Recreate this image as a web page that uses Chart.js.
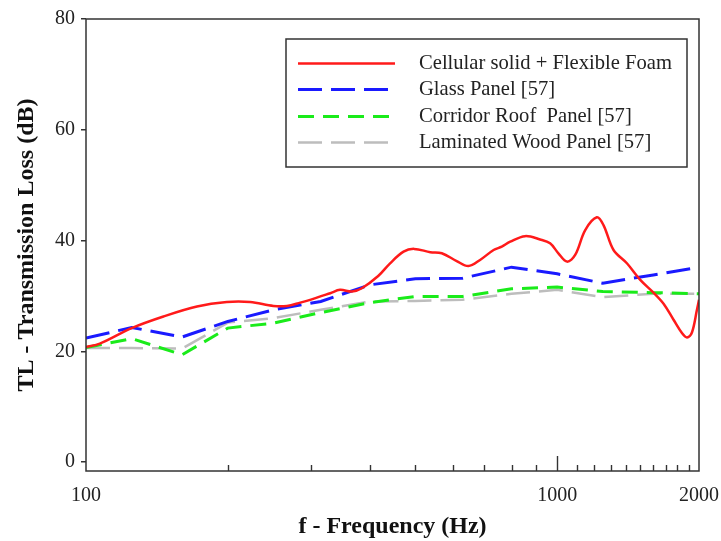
<!DOCTYPE html>
<html>
<head>
<meta charset="utf-8">
<title>Transmission Loss</title>
<script src="https://cdn.jsdelivr.net/npm/chart.js@4.4.0/dist/chart.umd.min.js"></script>
<style>
  html, body { margin: 0; padding: 0; background: #fff; }
  #wrap { width: 721px; height: 541px; }
</style>
</head>
<body>
<div id="wrap"><canvas id="lineChart" width="721" height="541"></canvas></div>
<script>
// red curve (measured, many points)
const freqFoam = [100, 107, 125, 146, 172, 199, 223, 250, 267, 285, 299, 330, 346, 367, 385, 417, 442, 472, 497, 538, 569, 612, 648, 686, 733, 763, 795, 855, 920, 966, 1006, 1049, 1092, 1147, 1214, 1254, 1317, 1406, 1501, 1601, 1682, 1766, 1840, 1886, 1932, 1980, 2000];
const tlFoam = [20.8, 21.4, 24.2, 26.3, 28.1, 28.9, 28.9, 28.2, 28.2, 28.8, 29.3, 30.5, 31.1, 30.8, 31.4, 33.6, 35.9, 38.0, 38.5, 37.9, 37.7, 36.3, 35.4, 36.5, 38.3, 38.9, 39.8, 40.8, 40.2, 39.5, 37.7, 36.2, 37.4, 41.9, 44.2, 42.8, 38.3, 35.9, 32.9, 30.6, 28.6, 25.7, 23.3, 22.5, 23.4, 27.5, 29.3];

// 1/3 octave bands for the reference panels
const freqBands = [100, 125, 160, 200, 250, 315, 400, 500, 630, 800, 1000, 1250, 1600, 2000];
const tlGlass = [22.4, 24.3, 22.6, 25.4, 27.5, 29.0, 32.0, 33.1, 33.2, 35.2, 34.0, 32.3, 33.8, 35.2];
const tlCorridor = [20.7, 22.3, 19.4, 24.2, 25.1, 27.0, 28.8, 29.9, 29.9, 31.3, 31.6, 30.8, 30.6, 30.4];
const tlWood = [20.6, 20.6, 20.5, 25.2, 26.0, 27.5, 29.0, 29.1, 29.3, 30.4, 31.1, 29.8, 30.4, 30.4];

const xTickValues = [100, 200, 300, 400, 500, 600, 700, 800, 900, 1000, 1100, 1200, 1300, 1400, 1500, 1600, 1700, 1800, 1900, 2000];
const xLabelValues = [100, 1000, 2000];
const yTickValues = [0, 20, 40, 60, 80];

const serif = "'Liberation Serif', 'Times New Roman', serif";
const axisColor = "#333";

function toPoints(xs, ys) {
  return xs.map((x, i) => ({ x: x, y: ys[i] }));
}

// kotak plot + tick kecil ke dalam + legend di dalam area plot
const framePlugin = {
  id: "frame",
  afterDraw(chart) {
    const { ctx, chartArea, scales } = chart;
    ctx.save();
    ctx.strokeStyle = axisColor;
    ctx.lineWidth = 1.5;
    ctx.strokeRect(chartArea.left, chartArea.top, chartArea.right - chartArea.left, chartArea.bottom - chartArea.top);

    // minor ticks on x axis, pointing up
    ctx.lineWidth = 1.4;
    xTickValues.forEach((v) => {
      if (v === 100 || v === 2000) return;
      const px = Math.round(scales.x.getPixelForValue(v)) + 0.5;
      const len = v === 1000 ? 15 : 6;
      ctx.beginPath();
      ctx.moveTo(px, chartArea.bottom);
      ctx.lineTo(px, chartArea.bottom - len);
      ctx.stroke();
    });

    // legend
    const boxL = chartArea.left + 200;
    const boxT = chartArea.top + 20;
    const boxW = 401;
    const boxH = 128;
    ctx.fillStyle = "#fff";
    ctx.fillRect(boxL, boxT, boxW, boxH);
    ctx.lineWidth = 1.5;
    ctx.strokeStyle = axisColor;
    ctx.strokeRect(boxL, boxT, boxW, boxH);

    ctx.font = "20.6px " + serif;
    ctx.textBaseline = "middle";
    ctx.textAlign = "left";
    chart.data.datasets.forEach((ds, i) => {
      const y = Math.round(boxT + 24 + i * 26.3) + 0.5;
      ctx.strokeStyle = ds.borderColor;
      ctx.lineWidth = ds.borderWidth;
      ctx.setLineDash(ds.borderDash || []);
      ctx.beginPath();
      ctx.moveTo(boxL + 12, y);
      ctx.lineTo(boxL + 109, y);
      ctx.stroke();
      ctx.setLineDash([]);
      ctx.fillStyle = "#222";
      ctx.fillText(ds.label, boxL + 133, y);
    });
    ctx.restore();
  },
};

const ctx = document.getElementById("lineChart").getContext("2d");
new Chart(ctx, {
  type: "line",
  data: {
    datasets: [
      {
        label: "Cellular solid + Flexible Foam",
        data: toPoints(freqFoam, tlFoam),
        borderColor: "#ff1a1a",
        borderWidth: 2.5,
        tension: 0.35,
      },
      {
        label: "Glass Panel [57]",
        data: toPoints(freqBands, tlGlass),
        borderColor: "#1a1aff",
        borderWidth: 3,
        borderDash: [24, 9],
        tension: 0,
      },
      {
        label: "Corridor Roof  Panel [57]",
        data: toPoints(freqBands, tlCorridor),
        borderColor: "#1aeb1a",
        borderWidth: 3,
        borderDash: [16, 9],
        tension: 0,
      },
      {
        label: "Laminated Wood Panel [57]",
        data: toPoints(freqBands, tlWood),
        borderColor: "#bdbdbd",
        borderWidth: 2.5,
        borderDash: [24, 9],
        tension: 0,
      },
    ],
  },
  options: {
    responsive: false,
    animation: false,
    devicePixelRatio: 1,
    layout: { padding: { top: 19, right: 22, left: 0, bottom: 0 } },
    elements: { point: { radius: 0 } },
    plugins: {
      legend: { display: false },
      tooltip: { enabled: false },
    },
    scales: {
      x: {
        type: "logarithmic",
        min: 100,
        max: 2000,
        afterBuildTicks: (scale) => {
          scale.ticks = xTickValues.map((v) => ({ value: v }));
        },
        afterFit: (scale) => {
          scale.height = 70;
          scale.paddingLeft = 0;
          scale.paddingRight = 0;
        },
        ticks: {
          autoSkip: false,
          maxRotation: 0,
          padding: 13,
          color: "#222",
          font: { family: serif, size: 20 },
          callback: (v) => (xLabelValues.includes(v) ? String(v) : ""),
        },
        grid: { display: false, drawTicks: false },
        border: { display: false },
        title: {
          display: true,
          text: "f - Frequency (Hz)",
          color: "#111",
          font: { family: serif, size: 24, weight: "bold" },
          padding: { top: 0, bottom: 0 },
        },
      },
      y: {
        min: -1.6,
        max: 80,
        afterBuildTicks: (scale) => {
          scale.ticks = yTickValues.map((v) => ({ value: v }));
        },
        afterFit: (scale) => {
          scale.width = 86;
        },
        ticks: {
          padding: 6,
          color: "#222",
          font: { family: serif, size: 20 },
        },
        grid: {
          drawOnChartArea: false,
          drawTicks: true,
          tickLength: 5,
          color: axisColor,
          lineWidth: 1.5,
        },
        border: { display: false },
        title: {
          display: true,
          text: "TL - Transmission Loss (dB)",
          color: "#111",
          font: { family: serif, size: 24, weight: "bold" },
          padding: { top: 12, bottom: 0 },
        },
      },
    },
  },
  plugins: [framePlugin],
});
</script>
</body>
</html>
